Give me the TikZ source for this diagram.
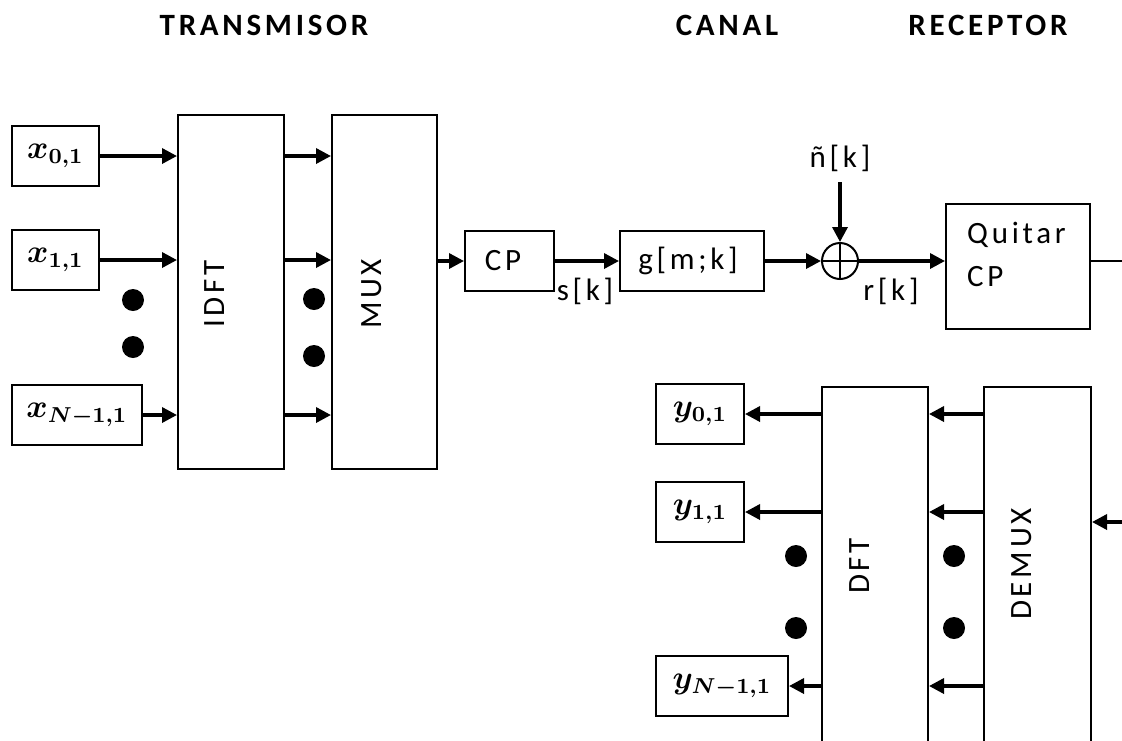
\documentclass[tikz,border=0pt]{standalone}
\usepackage[no-math]{fontspec}
\setmainfont{Carlito}[LetterSpace=12]
\newfontfamily\titlefont{Carlito Bold}[LetterSpace=12]
\usepackage{bm}
\usetikzlibrary{arrows.meta}
\tikzset{
  blk/.style={draw, line width=2pt, inner sep=0pt},
  arr/.style={line width=3.4pt, -{Triangle[length=15pt,width=15pt]}},
  ln/.style={line width=2pt},
  txt/.style={font=\fontsize{31}{37}\selectfont, inner sep=0pt},
  mth/.style={font=\fontsize{12}{14}\selectfont, inner sep=0pt, scale=2.7, transform shape},
  ttl/.style={font=\titlefont\fontsize{31}{37}\selectfont, inner sep=0pt},
}
\begin{document}
\begin{tikzpicture}[x=1pt,y=-1pt]
\useasboundingbox (0,0) rectangle (1122,740);
% titles
\node[ttl] (t1) at (264,25) {TRANSMISOR};
\node[ttl] (t2) at (727,25) {CANAL};
\node[ttl] (t3) at (988,25) {RECEPTOR};
% transmitter inputs
\node[blk, minimum width=87pt, minimum height=60pt] (x0) at (55.5,156) {};
\node[mth] at (x0) {$\bm{x_{0,1}}$};
\node[blk, minimum width=87pt, minimum height=60pt] (x1) at (55.5,260) {};
\node[mth] at (x1) {$\bm{x_{1,1}}$};
\node[blk, minimum width=130pt, minimum height=60pt] (xn) at (77,415) {};
\node[mth] at (xn) {$\bm{x_{N-1,1}}$};
% IDFT, MUX
\node[blk, minimum width=106pt, minimum height=354pt] (idft) at (231,292) {};
\node[txt, rotate=90] (idftl) at (215,294) {IDFT};
\node[blk, minimum width=105pt, minimum height=354pt] (mux) at (384.5,292) {};
\node[txt, rotate=90] (muxl) at (372,294) {MUX};
\draw[arr] (x0.east) -- (idft.west |- x0.east);
\draw[arr] (x1.east) -- (idft.west |- x1.east);
\draw[arr] (xn.east) -- (idft.west |- xn.east);
\draw[arr] (idft.east |- x0.east) -- (mux.west |- x0.east);
\draw[arr] (idft.east |- x1.east) -- (mux.west |- x1.east);
\draw[arr] (idft.east |- xn.east) -- (mux.west |- xn.east);
\fill (133,300) circle (11);
\fill (133,347) circle (11);
\fill (314,299) circle (11);
\fill (314,356) circle (11);
% CP, channel
\node[blk, minimum width=89pt, minimum height=60pt] (cp) at (509.5,261) {};
\node[txt] (cpl) at (503,261) {CP};
\node[blk, minimum width=144pt, minimum height=60pt] (g) at (692,261) {};
\node[txt] (gl) at (688,261) {g[m;k]};
\draw[arr] (mux.east |- cp.west) -- (cp.west);
\draw[arr] (cp.east) -- (g.west);
\node[txt] (sk) at (585,291) {s[k]};
% sum
\node[draw, circle, line width=2pt, minimum size=36pt, inner sep=0pt] (sum) at (840,261) {};
\draw[line width=2pt] (sum.north) -- (sum.south) (sum.west) -- (sum.east);
\draw[arr] (g.east) -- (sum.west);
\coordinate (nz) at (840,182);
\node[txt] (nl) at (840,158) {ñ[k]};
\draw[arr] (nz) -- (sum.north);
\node[txt] (rk) at (891,291) {r[k]};
% Quitar CP
\node[blk, minimum width=144pt, minimum height=125pt] (q) at (1018,266.5) {};
\node[txt, anchor=west] (q1) at (967,235) {Quitar};
\node[txt, anchor=west] (q2) at (967,277) {CP};
\draw[arr] (sum.east) -- (q.west |- sum.east);
\coordinate (qe) at (1122,261);
\draw[ln] (q.east |- qe) -- (qe);
% receiver
\node[blk, minimum width=106pt, minimum height=380pt] (dft) at (875,577) {};
\node[txt, rotate=90] (dftl) at (860,566) {DFT};
\node[blk, minimum width=107pt, minimum height=380pt] (demux) at (1037.5,577) {};
\node[txt, rotate=90] (demuxl) at (1022,564) {DEMUX};
\node[blk, minimum width=88pt, minimum height=60pt] (y0) at (700,414) {};
\node[mth] at (y0) {$\bm{y_{0,1}}$};
\node[blk, minimum width=88pt, minimum height=60pt] (y1) at (700,512) {};
\node[mth] at (y1) {$\bm{y_{1,1}}$};
\node[blk, minimum width=132pt, minimum height=60pt] (yn) at (722,686) {};
\node[mth] at (yn) {$\bm{y_{N-1,1}}$};
\draw[arr] (dft.west |- y0.east) -- (y0.east);
\draw[arr] (dft.west |- y1.east) -- (y1.east);
\draw[arr] (dft.west |- yn.east) -- (yn.east);
\draw[arr] (demux.west |- y0.east) -- (dft.east |- y0.east);
\draw[arr] (demux.west |- y1.east) -- (dft.east |- y1.east);
\draw[arr] (demux.west |- yn.east) -- (dft.east |- yn.east);
\coordinate (din) at (1122,522);
\draw[arr] (din) -- (demux.east |- din);
\fill (796,556) circle (11);
\fill (796,628) circle (11);
\fill (954,556) circle (11);
\fill (954,628) circle (11);
\end{tikzpicture}
\end{document}
